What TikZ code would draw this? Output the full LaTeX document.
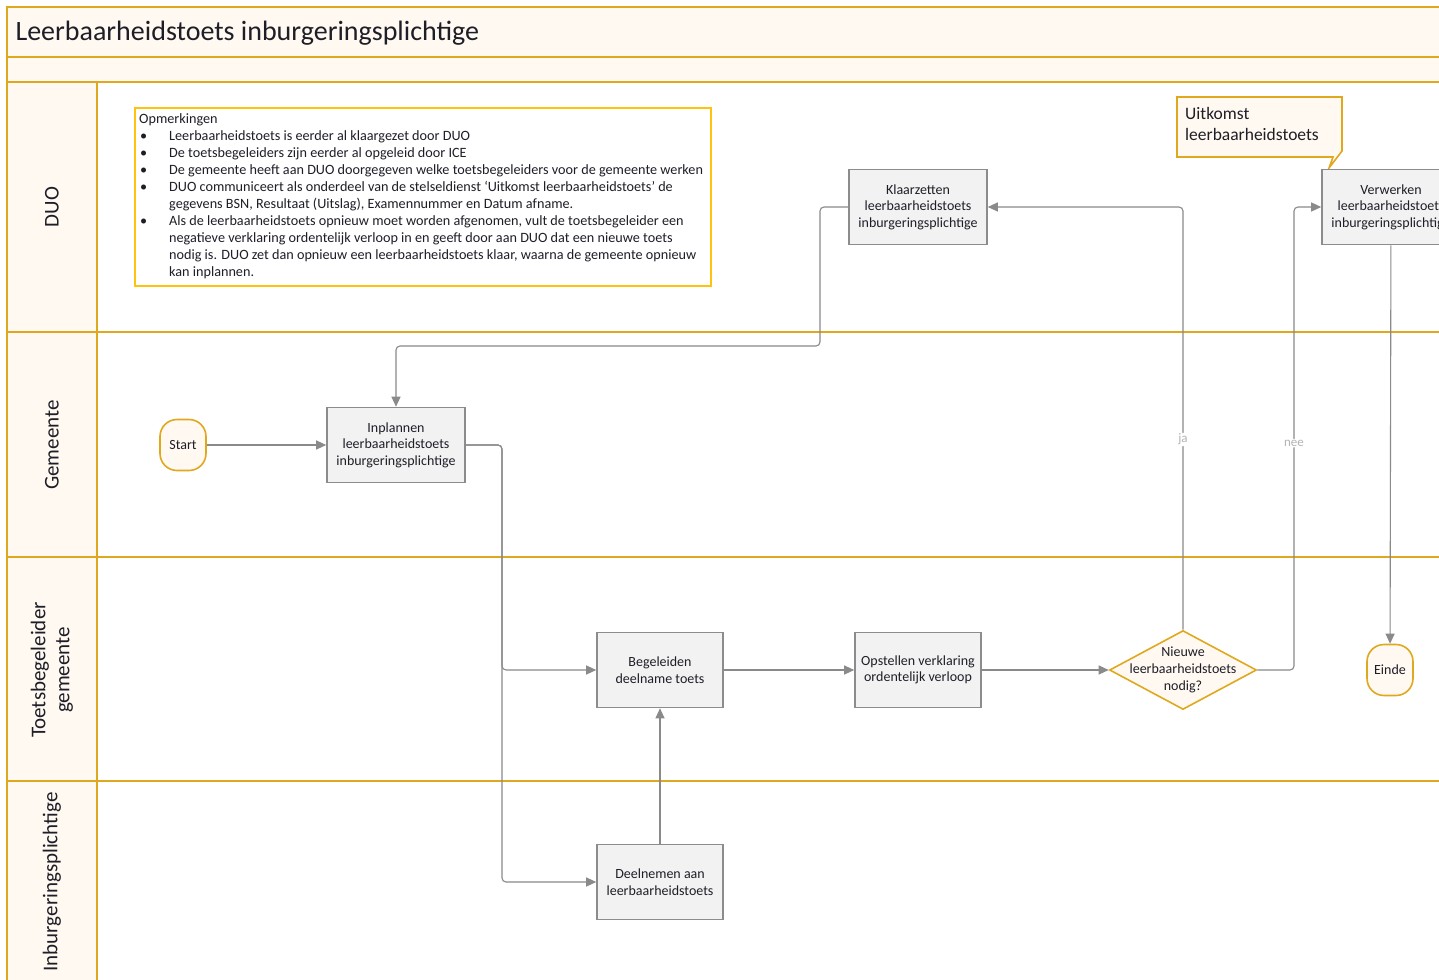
\documentclass[tikz,border=0pt]{standalone}
\usepackage{fontspec}
\setmainfont{Carlito}
\usetikzlibrary{arrows.meta,shapes.geometric}
\definecolor{gold}{HTML}{E0A81E}
\definecolor{notegold}{HTML}{FFC20E}
\definecolor{cream}{HTML}{FFF9F1}
\definecolor{boxfill}{HTML}{F2F2F2}
\definecolor{boxline}{HTML}{8C8C8C}
\definecolor{conn}{HTML}{8A8A8A}
\definecolor{lbl}{HTML}{B4B4B4}
\definecolor{ink}{HTML}{1E1E28}
\tikzset{
  proc/.style={draw=boxline, line width=1.6pt, fill=boxfill, minimum height=75pt, align=center, inner sep=2pt, font=\fontsize{14}{16.5}\selectfont, text=ink},
  term/.style={draw=gold, line width=1.6pt, fill=cream, rounded corners=17pt, minimum width=46pt, minimum height=51pt, inner sep=1pt, font=\fontsize{14}{16}\selectfont, text=ink},
  decision/.style={diamond, draw=gold, line width=1.6pt, fill=cream, minimum width=147pt, minimum height=79pt, inner sep=0pt},
  dectext/.style={align=center, inner sep=0pt, font=\fontsize{14}{17}\selectfont, text=ink},
  lanelabel/.style={rotate=90, align=center, font=\fontsize{21}{24}\selectfont, text=ink},
  flow/.style={draw=conn, line width=1.1pt, rounded corners=4pt, -{Triangle[length=10pt,width=9pt]}},
  flowlbl/.style={fill=white, text=lbl, inner sep=1pt, font=\fontsize{13}{15}\selectfont},
  frame/.style={draw=gold, line width=2.4pt},
}
\begin{document}
\begin{tikzpicture}[x=1pt,y=-1pt]
\useasboundingbox (0,0) rectangle (1439,979);
% backgrounds
\fill[cream] (7,7) rectangle (1445,82);
\fill[cream] (7,82) rectangle (97,985);
\fill[white] (97,82) rectangle (1445,985);
% frame lines
\draw[frame] (1445,7) -- (7,7) -- (7,985);
\draw[frame] (7,57) -- (1445,57);
\draw[frame] (7,82) -- (1445,82);
\draw[frame] (7,332) -- (1445,332);
\draw[frame] (7,557) -- (1445,557);
\draw[frame] (7,781) -- (1445,781);
\draw[frame] (97,82) -- (97,985);
% title
\node[anchor=west, font=\fontsize{28}{32}\selectfont, text=ink] (title) at (12,33) {Leerbaarheidstoets inburgeringsplichtige};
% lane labels
\node[lanelabel] (lduo) at (52,207) {DUO};
\node[lanelabel] (lgem) at (52,445) {Gemeente};
\node[lanelabel] (ltoets) at (52,670) {Toetsbegeleider\\gemeente};
\node[lanelabel] (linb) at (52,882) {Inburgeringsplichtige};
% note
\node[draw=notegold, line width=2pt, fill=white, anchor=north west, minimum width=576pt, minimum height=178pt, inner sep=0pt] (note) at (134,107) {};
\node[anchor=north west, align=left, inner sep=0pt, font=\fontsize{14.2}{17.1}\selectfont, text=ink] (notetext) at (139,113) {%
Opmerkingen\\
\hspace*{1pt}\makebox[29pt][l]{\textbullet}Leerbaarheidstoets is eerder al klaargezet door DUO\\
\hspace*{1pt}\makebox[29pt][l]{\textbullet}De toetsbegeleiders zijn eerder al opgeleid door ICE\\
\hspace*{1pt}\makebox[29pt][l]{\textbullet}De gemeente heeft aan DUO doorgegeven welke toetsbegeleiders voor de gemeente werken\\
\hspace*{1pt}\makebox[29pt][l]{\textbullet}DUO communiceert als onderdeel van de stelseldienst ‘Uitkomst leerbaarheidstoets’ de\\
\hspace*{30pt}gegevens BSN, Resultaat (Uitslag), Examennummer en Datum afname.\\
\hspace*{1pt}\makebox[29pt][l]{\textbullet}Als de leerbaarheidstoets opnieuw moet worden afgenomen, vult de toetsbegeleider een\\
\hspace*{30pt}negatieve verklaring ordentelijk verloop in en geeft door aan DUO dat een nieuwe toets\\
\hspace*{30pt}nodig is. DUO zet dan opnieuw een leerbaarheidstoets klaar, waarna de gemeente opnieuw\\
\hspace*{30pt}kan inplannen.};
% callout
\draw[draw=gold, line width=1.6pt, fill=cream, line join=miter] (1177,97) -- (1342,97) -- (1342,151) -- (1329,168) -- (1333,157) -- (1177,157) -- cycle;
\node[anchor=north west, align=left, inner sep=0pt, font=\fontsize{17.5}{21}\selectfont, text=ink] (uitkomst) at (1185,107) {Uitkomst\\leerbaarheidstoets};
% process nodes
\node[proc, minimum width=138pt] (klaar) at (918,207) {Klaarzetten\\leerbaarheidstoets\\inburgeringsplichtige};
\node[proc, minimum width=138pt] (verw) at (1391,207) {Verwerken\\leerbaarheidstoets\\inburgeringsplichtige};
\node[term] (start) at (183,445) {Start};
\node[proc, minimum width=138pt] (inpl) at (396,445) {Inplannen\\leerbaarheidstoets\\inburgeringsplichtige};
\node[proc, minimum width=126pt] (beg) at (660,670) {Begeleiden\\deelname toets};
\node[proc, minimum width=126pt] (opst) at (918,670) {Opstellen verklaring\\ordentelijk verloop};
\node[decision] (dec) at (1183,670) {};
\node[dectext] (dectxt) at (dec.center) {Nieuwe\\leerbaarheidstoets\\nodig?};
\node[term] (einde) at (1390,670) {Einde};
\node[proc, minimum width=126pt] (deel) at (660,882) {Deelnemen aan\\leerbaarheidstoets};
% connectors
\draw[flow] (start) -- (inpl);
\draw[flow] (inpl.east) -- (502,445) |- (beg.west);
\draw[flow] (inpl.east) -- (502,445) |- (deel.west);
\draw[flow] (deel) -- (beg);
\draw[flow] (beg) -- (opst);
\draw[flow] (opst) -- (dec);
\draw[flow] (dec.north) |- (klaar.east) node[pos=0.225, flowlbl] {ja};
\draw[flow] (dec.east) -- (1294,670) |- (verw.west) node[pos=0.245, flowlbl] {nee};
\draw[flow] (klaar.west) -- (820,207) -- (820,346) -| (inpl.north);
\draw[flow] (verw) -- (einde);
\end{tikzpicture}
\end{document}
